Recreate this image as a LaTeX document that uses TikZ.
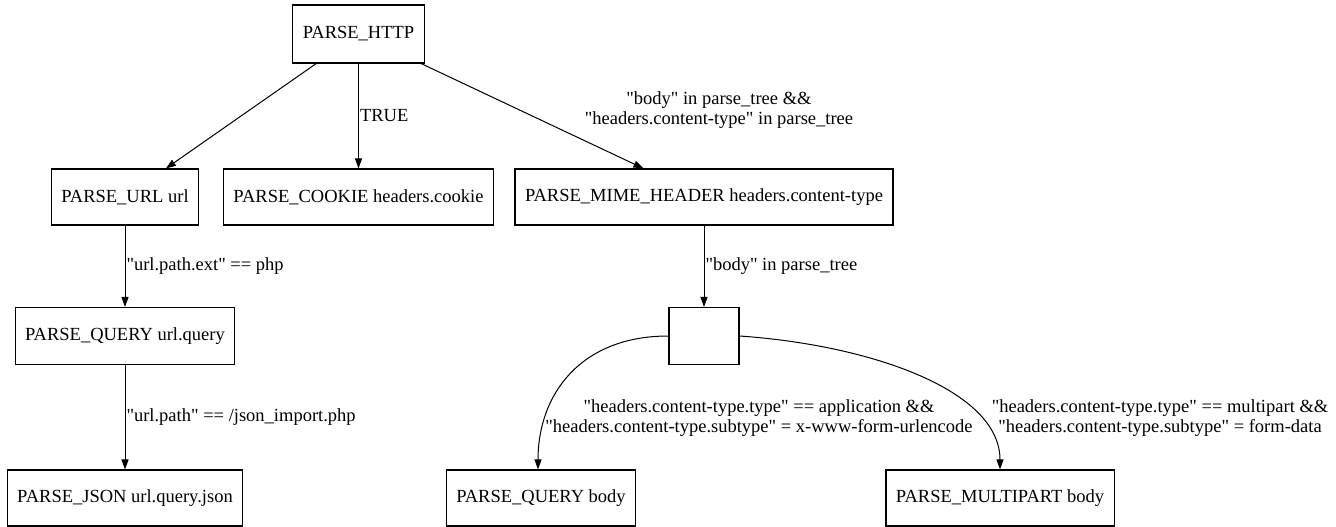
\documentclass[tikz,border=0pt]{standalone}
\usepackage{fontspec}
\setmainfont{Liberation Serif}[Ligatures=TeXOff]
\usepackage{tikz}
\usetikzlibrary{arrows.meta, positioning}
\tikzstyle{line} = [draw, -{Triangle[length=10pt,width=7pt]}, line width=1pt]

\begin{document}
\begin{tikzpicture}[x=1pt, y=-1pt,
    box/.style={rectangle, draw=black, line width=1.1pt, minimum height=56pt, inner xsep=10pt, font=\fontsize{18.5}{20}\selectfont},
    lbl/.style={inner sep=1pt, align=center, font=\fontsize{18.5}{20}\selectfont}]

    \useasboundingbox (0,0) rectangle (1336,527);

    \node[box, minimum height=58pt] (http) at (358.5,34) {PARSE\_HTTP};

    \node[box] (url) at (125,197) {PARSE\_URL url};
    \node[box] (cook) at (358.5,197) {PARSE\_COOKIE headers.cookie};
    \node[box] (mime) at (704,197) {PARSE\_MIME\_HEADER headers.content-type};

    \node[box, minimum height=57pt] (qry) at (125,336) {PARSE\_QUERY url.query};
    \node[box, minimum height=57pt, minimum width=70pt] (blank) at (704,336) {};

    \node[box] (json) at (125,498) {PARSE\_JSON url.query.json};
    \node[box] (qbody) at (541,498) {PARSE\_QUERY body};
    \node[box] (mpart) at (1000,498) {PARSE\_MULTIPART body};

    \draw[line] (http) -- (url);
    \draw[line] (http) -- node[lbl, right] {TRUE} (cook);
    \draw[line] (http) -- node[lbl, pos=0.44, xshift=200pt]
      {"body" in parse\_tree \&\&\\"headers.content-type" in parse\_tree} (mime);

    \draw[line] (url) -- node[lbl, right] {"url.path.ext" == php} (qry);
    \draw[line] (qry) -- node[lbl, right] {"url.path" == /json\_import.php} (json);

    \draw[line] (mime) -- node[lbl, right] {"body" in parse\_tree} (blank);

    \draw[line] (blank.west) .. controls (580,336) and (538,395) .. (qbody.north -| 538,0);
    \draw[line] (blank.east) .. controls (870,345) and (1000,390) .. (mpart.north);

    \node[lbl] (qlbl) at (759,418)
      {"headers.content-type.type" == application \&\&\\"headers.content-type.subtype" = x-www-form-urlencode};
    \node[lbl] (mlbl) at (1160,418)
      {"headers.content-type.type" == multipart \&\&\\"headers.content-type.subtype" = form-data};

\end{tikzpicture}
\end{document}
